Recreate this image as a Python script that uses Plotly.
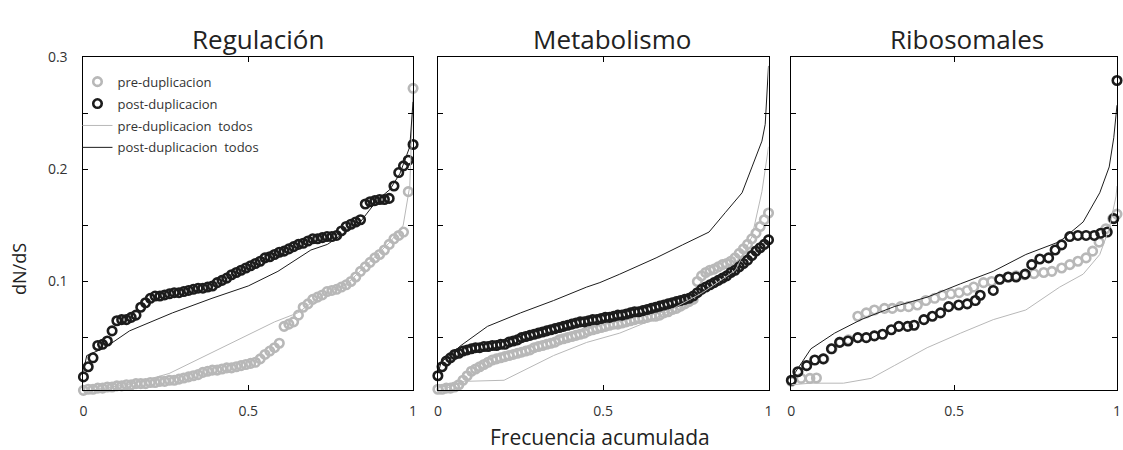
import numpy as np
import plotly.graph_objects as go

# ---------------- data ----------------
panel_titles = ["Regulación", "Metabolismo", "Ribosomales"]
legend_names = ["pre-duplicacion", "post-duplicacion",
                "pre-duplicacion  todos", "post-duplicacion  todos"]
x_ticks = [0, 0.5, 1]
x_tick_text = ["0", "0.5", "1"]
y_ticks = [0.05, 0.1, 0.15, 0.2, 0.25, 0.3]
y_tick_text = ["", "0.1", "", "0.2", "", "0.3"]

# Regulación: sorted dN/dS values (markers), x = cumulative frequency
reg_post = [0.015, 0.024, 0.032, 0.043, 0.044, 0.047, 0.056, 0.065, 0.066, 0.066,
            0.068, 0.070, 0.077, 0.081, 0.085, 0.087, 0.087, 0.088, 0.089, 0.090,
            0.090, 0.091, 0.092, 0.093, 0.094, 0.094, 0.095, 0.096, 0.099, 0.101,
            0.103, 0.106, 0.108, 0.110, 0.112, 0.114, 0.116, 0.118, 0.121, 0.122,
            0.124, 0.126, 0.127, 0.129, 0.131, 0.133, 0.134, 0.136, 0.138, 0.138,
            0.139, 0.140, 0.140, 0.141, 0.145, 0.149, 0.151, 0.153, 0.155, 0.169,
            0.171, 0.172, 0.173, 0.173, 0.174, 0.185, 0.197, 0.203, 0.208, 0.222]
reg_pre = [0.003, 0.004, 0.004, 0.005, 0.005, 0.006, 0.006, 0.007, 0.007, 0.008,
           0.008, 0.009, 0.009, 0.009, 0.010, 0.010, 0.011, 0.011, 0.012, 0.012,
           0.013, 0.014, 0.015, 0.016, 0.017, 0.019, 0.020, 0.021, 0.021, 0.022,
           0.023, 0.023, 0.024, 0.025, 0.026, 0.027, 0.028, 0.031, 0.035, 0.038,
           0.041, 0.045, 0.060, 0.062, 0.064, 0.070, 0.077, 0.080, 0.084, 0.086,
           0.088, 0.091, 0.092, 0.093, 0.095, 0.097, 0.100, 0.104, 0.109, 0.113,
           0.117, 0.121, 0.124, 0.128, 0.133, 0.138, 0.141, 0.144, 0.180, 0.272]
reg_post_all_x = [0, 0.01, 0.065, 0.14, 0.27, 0.39, 0.50, 0.59, 0.69, 0.74, 0.84,
                  0.89, 0.93, 0.96, 0.99, 1.0]
reg_post_all_y = [0.020, 0.034, 0.041, 0.056, 0.072, 0.085, 0.096, 0.109, 0.128, 0.133,
                  0.153, 0.172, 0.182, 0.196, 0.220, 0.260]
reg_pre_all_x = [0, 0.15, 0.26, 0.37, 0.48, 0.58, 0.65, 0.72, 0.80, 0.87, 0.93, 0.97,
                 0.99, 1.0]
reg_pre_all_y = [0.002, 0.009, 0.018, 0.034, 0.050, 0.064, 0.072, 0.087, 0.098, 0.118,
                 0.135, 0.150, 0.185, 0.270]

# Metabolismo
met_post = [0.016, 0.024, 0.029, 0.032, 0.035, 0.036, 0.038, 0.039, 0.040, 0.041,
            0.041, 0.042, 0.042, 0.043, 0.043, 0.044, 0.044, 0.046, 0.047, 0.048,
            0.050, 0.051, 0.052, 0.053, 0.054, 0.055, 0.056, 0.057, 0.058, 0.059,
            0.060, 0.061, 0.062, 0.063, 0.064, 0.064, 0.065, 0.066, 0.066, 0.067,
            0.068, 0.068, 0.069, 0.070, 0.070, 0.071, 0.072, 0.073, 0.073, 0.074,
            0.075, 0.076, 0.077, 0.078, 0.079, 0.080, 0.081, 0.082, 0.083, 0.084,
            0.085, 0.087, 0.090, 0.093, 0.095, 0.097, 0.099, 0.101, 0.103, 0.105,
            0.108, 0.110, 0.113, 0.116, 0.119, 0.123, 0.127, 0.130, 0.133, 0.137]
met_pre = [0.004, 0.004, 0.005, 0.005, 0.006, 0.008, 0.012, 0.016, 0.020, 0.022,
           0.024, 0.026, 0.028, 0.030, 0.031, 0.032, 0.033, 0.034, 0.035, 0.036,
           0.037, 0.038, 0.039, 0.041, 0.042, 0.043, 0.044, 0.045, 0.046, 0.048,
           0.049, 0.050, 0.051, 0.052, 0.053, 0.054, 0.056, 0.057, 0.058, 0.059,
           0.060, 0.061, 0.062, 0.062, 0.063, 0.064, 0.065, 0.066, 0.067, 0.067,
           0.068, 0.069, 0.069, 0.070, 0.072, 0.073, 0.075, 0.076, 0.078, 0.080,
           0.082, 0.084, 0.100, 0.105, 0.108, 0.110, 0.111, 0.113, 0.115, 0.116,
           0.118, 0.121, 0.125, 0.129, 0.133, 0.138, 0.143, 0.149, 0.155, 0.161]
met_post_all_x = [0, 0.01, 0.07, 0.15, 0.25, 0.35, 0.45, 0.49, 0.55, 0.66, 0.74, 0.82,
                  0.87, 0.92, 0.95, 0.98, 0.99, 0.995, 1.0]
met_post_all_y = [0.018, 0.028, 0.043, 0.060, 0.072, 0.083, 0.095, 0.099, 0.1065, 0.121,
                  0.1326, 0.144, 0.1616, 0.179, 0.202, 0.225, 0.240, 0.262, 0.292]
met_pre_all_x = [0, 0.08, 0.20, 0.27, 0.35, 0.45, 0.55, 0.65, 0.80, 0.90, 0.95, 0.98, 1.0]
met_pre_all_y = [0.002, 0.011, 0.012, 0.022, 0.034, 0.0457, 0.054, 0.066, 0.090, 0.110,
                 0.140, 0.180, 0.220]

# Ribosomales (points are individually readable: x read too)
rib_post_x = [0, 0.02, 0.047, 0.072, 0.098, 0.123, 0.148, 0.174, 0.204, 0.23, 0.255,
              0.28, 0.307, 0.33, 0.357, 0.377, 0.407, 0.433, 0.458, 0.483, 0.514, 0.54,
              0.565, 0.58, 0.62, 0.64, 0.666, 0.69, 0.718, 0.738, 0.763, 0.79, 0.81,
              0.83, 0.855, 0.88, 0.905, 0.93, 0.95, 0.97, 0.99, 1.0]
rib_post_y = [0.012, 0.0196, 0.025, 0.030, 0.031, 0.040, 0.0457, 0.047, 0.050, 0.050,
              0.0515, 0.053, 0.057, 0.060, 0.060, 0.061, 0.066, 0.069, 0.072, 0.0776,
              0.079, 0.080, 0.083, 0.0877, 0.092, 0.102, 0.104, 0.104, 0.1065, 0.115,
              0.120, 0.121, 0.128, 0.1326, 0.140, 0.141, 0.141, 0.141, 0.143, 0.144,
              0.156, 0.279]
rib_pre_x = [0, 0.03, 0.057, 0.077, 0.10, 0.125, 0.15, 0.175, 0.204, 0.23, 0.255, 0.286,
             0.31, 0.336, 0.36, 0.387, 0.413, 0.44, 0.464, 0.49, 0.515, 0.54, 0.56, 0.59,
             0.615, 0.64, 0.665, 0.69, 0.715, 0.745, 0.775, 0.80, 0.83, 0.855, 0.88,
             0.905, 0.925, 0.945, 0.966, 0.987, 1.0]
rib_pre_y = [0.011, 0.0137, 0.0137, 0.014, 0.031, 0.040, 0.046, 0.048, 0.069, 0.072,
             0.0746, 0.076, 0.076, 0.0776, 0.0776, 0.079, 0.083, 0.085, 0.0877, 0.089,
             0.090, 0.092, 0.095, 0.099, 0.100, 0.102, 0.104, 0.105, 0.106, 0.107,
             0.108, 0.109, 0.112, 0.115, 0.118, 0.121, 0.127, 0.135, 0.147, 0.156, 0.160]
rib_post_all_x = [0, 0.06, 0.133, 0.214, 0.316, 0.417, 0.52, 0.62, 0.72, 0.824, 0.896,
                  0.947, 0.976, 0.99, 1.0]
rib_post_all_y = [0.0137, 0.040, 0.054, 0.066, 0.0776, 0.086, 0.098, 0.109, 0.124, 0.1355,
                  0.153, 0.179, 0.202, 0.228, 0.257]
rib_pre_all_x = [0, 0.06, 0.16, 0.245, 0.316, 0.417, 0.52, 0.62, 0.72, 0.824, 0.896,
                 0.947, 0.976, 0.997, 1.0]
rib_pre_all_y = [0.008, 0.0094, 0.0094, 0.0137, 0.025, 0.041, 0.054, 0.066, 0.0746, 0.095,
                 0.1065, 0.124, 0.147, 0.176, 0.185]


def cumfreq(values):
    n = len(values)
    return np.arange(n) / (n - 1)


panels = [
    dict(pre_x=cumfreq(reg_pre), pre_y=reg_pre, post_x=cumfreq(reg_post), post_y=reg_post,
         pre_all=(reg_pre_all_x, reg_pre_all_y), post_all=(reg_post_all_x, reg_post_all_y)),
    dict(pre_x=cumfreq(met_pre), pre_y=met_pre, post_x=cumfreq(met_post), post_y=met_post,
         pre_all=(met_pre_all_x, met_pre_all_y), post_all=(met_post_all_x, met_post_all_y)),
    dict(pre_x=rib_pre_x, pre_y=rib_pre_y, post_x=rib_post_x, post_y=rib_post_y,
         pre_all=(rib_pre_all_x, rib_pre_all_y), post_all=(rib_post_all_x, rib_post_all_y)),
]

# ---------------- styling ----------------
W, H = 1123, 450
GRAY = "#b8b8b8"
BLACK = "#1c1c1c"
FONT = "Open Sans"
px_x = [(80, 412), (437, 770), (793, 1121)]
top_px, bot_px = 48, 389
title_cx = [256, 612, 970]

fig = go.Figure()
for i, p in enumerate(panels):
    xa = "x" if i == 0 else f"x{i+1}"
    ya = "y" if i == 0 else f"y{i+1}"
    show = (i == 0)
    fig.add_trace(go.Scatter(x=p["pre_x"], y=p["pre_y"], mode="markers", name=legend_names[0],
                             marker=dict(symbol="circle-open", size=8.5, color=GRAY,
                                         line=dict(width=2.6, color=GRAY)),
                             xaxis=xa, yaxis=ya, showlegend=show, legendgroup="a",
                             cliponaxis=False))
    fig.add_trace(go.Scatter(x=p["post_x"], y=p["post_y"], mode="markers", name=legend_names[1],
                             marker=dict(symbol="circle-open", size=8.5, color=BLACK,
                                         line=dict(width=2.6, color=BLACK)),
                             xaxis=xa, yaxis=ya, showlegend=show, legendgroup="b",
                             cliponaxis=False))
    fig.add_trace(go.Scatter(x=p["pre_all"][0], y=p["pre_all"][1], mode="lines",
                             name=legend_names[2], line=dict(color=GRAY, width=1),
                             xaxis=xa, yaxis=ya, showlegend=show, legendgroup="c"))
    fig.add_trace(go.Scatter(x=p["post_all"][0], y=p["post_all"][1], mode="lines",
                             name=legend_names[3], line=dict(color=BLACK, width=1),
                             xaxis=xa, yaxis=ya, showlegend=show, legendgroup="d"))

axis_common = dict(showline=True, linecolor="black", linewidth=1, mirror="allticks",
                   ticks="inside", ticklen=5, tickcolor="black", showgrid=False,
                   zeroline=False, tickfont=dict(family=FONT, size=14, color="#333"))
layout = dict(width=W, height=H, margin=dict(l=0, r=0, t=0, b=0),
              paper_bgcolor="white", plot_bgcolor="white",
              font=dict(family=FONT, color="#333"))
for i in range(3):
    sx = "" if i == 0 else str(i + 1)
    layout["xaxis" + sx] = dict(axis_common, domain=[px_x[i][0] / W, px_x[i][1] / W],
                                range=[0, 1], tickvals=x_ticks, ticktext=x_tick_text,
                                anchor="y" + sx, ticklabelstandoff=8)
    layout["yaxis" + sx] = dict(axis_common, domain=[1 - bot_px / H, 1 - top_px / H],
                                range=[0.003, 0.3], tickvals=y_ticks, ticktext=y_tick_text,
                                anchor="x" + sx, showticklabels=(i == 0),
                                ticklabelstandoff=12)
fig.update_layout(**layout)

fig.update_layout(legend=dict(x=74 / W, y=1 - 58 / H, xanchor="left", yanchor="top",
                              bgcolor="rgba(0,0,0,0)", tracegroupgap=2,
                              font=dict(family=FONT, size=13, color="#333")))

ann = []
for i, t in enumerate(panel_titles):
    ann.append(dict(text=t, x=title_cx[i] / W, y=1 - 30 / H, xref="paper", yref="paper",
                    showarrow=False, xanchor="center", yanchor="middle",
                    font=dict(family=FONT, size=26, color="#222")))
ann.append(dict(text="Frecuencia acumulada", x=600 / W, y=1 - 437 / H, xref="paper",
                yref="paper", showarrow=False, xanchor="center", yanchor="middle",
                font=dict(family=FONT, size=21, color="#222")))
ann.append(dict(text="dN/dS", x=15 / W, y=1 - 265 / H, xref="paper", yref="paper",
                showarrow=False, xanchor="center", yanchor="middle", textangle=-90,
                font=dict(family=FONT, size=18, color="#222")))
fig.update_layout(annotations=ann)

fig.write_html("out.html")
